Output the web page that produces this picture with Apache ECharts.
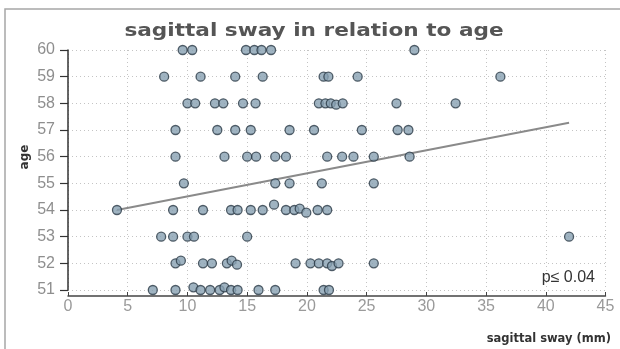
<!DOCTYPE html>
<html>
<head>
<meta charset="utf-8">
<title>sagittal sway in relation to age</title>
<script src="https://cdn.jsdelivr.net/npm/echarts@6/dist/echarts.min.js"></script>
<style>
  html, body { margin: 0; padding: 0; background: #fff; }
  #chart { width: 620px; height: 349px; }
</style>
</head>
<body>
<div id="chart"></div>
<script>
// Sagittal sway (mm) per subject, paired by index with age (years)
const sway = [
  // age 60
  9.6, 10.4, 14.9, 15.6, 16.2, 17.0, 29.0,
  // age 59
  8.05, 11.1, 14.0, 16.3, 21.4, 21.8, 24.25, 36.2,
  // age 58
  10.0, 10.65, 12.3, 13.0, 14.65, 15.7, 21.0, 21.55, 22.0, 22.45, 23.0, 27.5, 32.45,
  // age 57
  9.0, 12.5, 14.0, 15.3, 18.55, 20.6, 24.6, 27.6, 28.5,
  // age 56
  9.0, 13.1, 15.0, 15.75, 17.35, 18.25, 21.7, 22.95, 23.9, 25.6, 28.6,
  // age 55
  9.7, 17.35, 18.55, 21.25, 25.6,
  // age 54
  4.1, 8.8, 11.3, 13.65, 14.2, 15.3, 16.3, 17.25, 18.25, 18.95, 19.4, 19.95, 20.9, 21.7,
  // age 53
  7.8, 8.8, 10.0, 10.55, 15.0, 41.95,
  // age 52
  9.0, 9.45, 11.3, 12.05, 13.3, 13.7, 14.15, 19.05, 20.3, 21.0, 21.7, 22.1, 22.65, 25.6,
  // age 51
  7.1, 9.0, 10.5, 11.1, 11.9, 12.7, 13.1, 13.65, 14.2, 15.95, 17.35, 21.4, 21.85
];
const age = [
  60, 60, 60, 60, 60, 60, 60,
  59, 59, 59, 59, 59, 59, 59, 59,
  58, 58, 58, 58, 58, 58, 58, 58, 58, 57.95, 58, 58, 58,
  57, 57, 57, 57, 57, 57, 57, 57, 57,
  56, 56, 56, 56, 56, 56, 56, 56, 56, 56, 56,
  55, 55, 55, 55, 55,
  54, 54, 54, 54, 54, 54, 54, 54.2, 54, 54, 54.05, 53.9, 54, 54,
  53, 53, 53, 53, 53, 53,
  52, 52.1, 52, 52, 52, 52.1, 51.95, 52, 52, 52, 52, 51.9, 52, 52,
  51, 51, 51.1, 51, 51, 51, 51.1, 51, 51, 51, 51, 51, 51
];

// Linear trend end points (sway, age)
const trendSway = [4.1, 41.95];
const trendAge = [54.0, 57.27];

// Axis ranges and ticks
const xTicks = [0, 5, 10, 15, 20, 25, 30, 35, 40, 45];
const yTicks = [51, 52, 53, 54, 55, 56, 57, 58, 59, 60];

const points = sway.map((s, i) => [s, age[i]]);
const trend = trendSway.map((s, i) => [s, trendAge[i]]);

const chart = echarts.init(document.getElementById('chart'), null, { renderer: 'canvas' });

chart.setOption({
  animation: false,
  backgroundColor: '#ffffff',
  grid: { left: 68, right: 14.5, top: 50, bottom: 59 },
  xAxis: {
    type: 'value',
    min: xTicks[0],
    max: xTicks[xTicks.length - 1],
    interval: 5,
    offset: 6,
    axisLine: { show: true, lineStyle: { color: '#444', width: 1.5 } },
    axisTick: { show: true, inside: true, length: 4, lineStyle: { color: '#444', width: 1 } },
    axisLabel: { color: '#9a9a9a', fontSize: 16, fontFamily: 'Liberation Sans', margin: 3 },
    splitLine: { show: true, lineStyle: { color: '#c4c4c4', type: [1, 3], width: 1 } }
  },
  yAxis: {
    type: 'value',
    min: yTicks[0],
    max: yTicks[yTicks.length - 1],
    interval: 1,
    axisLine: { show: true, lineStyle: { color: '#333', width: 1.5 } },
    axisTick: { show: true, inside: false, length: 8, lineStyle: { color: '#333', width: 1.2 } },
    axisLabel: { color: '#8e8e8e', fontSize: 16, fontFamily: 'Liberation Sans', margin: 13 },
    splitLine: { show: true, lineStyle: { color: '#c4c4c4', type: [1, 3], width: 1 } }
  },
  series: [
    {
      type: 'line',
      data: trend,
      symbol: 'none',
      lineStyle: { color: '#8a8a8a', width: 2 },
      z: 2
    },
    {
      type: 'scatter',
      data: points,
      symbol: 'circle',
      symbolSize: 9,
      itemStyle: { color: '#87a0b2', borderColor: '#2a3946', borderWidth: 1.3 },
      z: 3
    }
  ],
  graphic: [
    {
      type: 'rect',
      silent: true,
      shape: { x: 5, y: 9, width: 700, height: 400 },
      style: { fill: 'none', stroke: '#a6a6a6', lineWidth: 1.5 }
    },
    {
      type: 'text',
      x: 314, y: 31,
      scaleX: 1.2,
      style: {
        text: 'sagittal sway in relation to age',
        font: 'bold 18px "DejaVu Sans"',
        fill: '#555',
        textAlign: 'center',
        textVerticalAlign: 'middle'
      }
    },
    {
      type: 'text',
      x: 25, y: 157,
      rotation: Math.PI / 2,
      style: {
        text: 'age',
        font: 'bold 12px "DejaVu Sans"',
        fill: '#333',
        textAlign: 'center',
        textVerticalAlign: 'middle'
      }
    },
    {
      type: 'text',
      x: 611, y: 339,
      style: {
        text: 'sagittal sway (mm)',
        font: 'bold 11.5px "DejaVu Sans"',
        fill: '#333',
        textAlign: 'right',
        textVerticalAlign: 'middle'
      }
    },
    {
      type: 'text',
      x: 595, y: 278,
      style: {
        text: 'p\u2264 0.04',
        font: '16px "Liberation Sans"',
        fill: '#333',
        textAlign: 'right',
        textVerticalAlign: 'middle'
      }
    }
  ]
});
</script>
</body>
</html>
